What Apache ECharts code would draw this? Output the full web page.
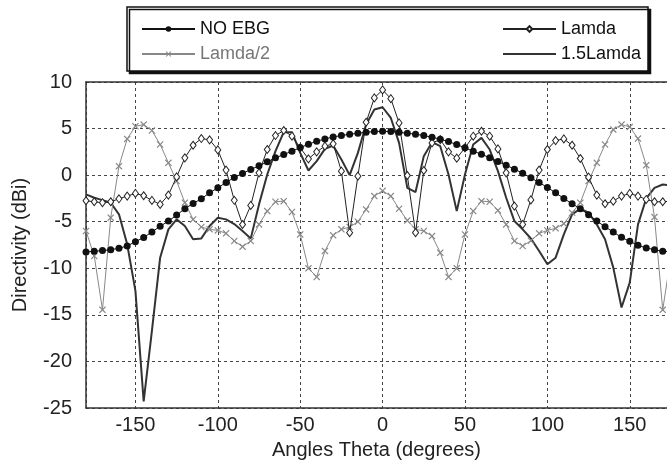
<!DOCTYPE html>
<html>
<head>
<meta charset="utf-8">
<script src="https://cdn.jsdelivr.net/npm/echarts@6/dist/echarts.min.js"></script>
<style>
html,body{margin:0;padding:0;background:#fff;}
#chart{width:667px;height:468px;}
</style>
</head>
<body>
<div id="chart"></div>
<script>
const angles = [-180,-175,-170,-165,-160,-155,-150,-145,-140,-135,-130,-125,-120,-115,-110,-105,-100,-95,-90,-85,-80,-75,-70,-65,-60,-55,-50,-45,-40,-35,-30,-25,-20,-15,-10,-5,0,5,10,15,20,25,30,35,40,45,50,55,60,65,70,75,80,85,90,95,100,105,110,115,120,125,130,135,140,145,150,155,160,165,170,175,180];

const noEBG = [-8.25,-8.18,-8.1,-8.0,-7.86,-7.6,-7.14,-6.7,-6.1,-5.5,-4.93,-4.29,-3.6,-3.04,-2.54,-1.9,-1.36,-0.79,-0.25,0.18,0.61,1.0,1.43,1.86,2.21,2.57,2.96,3.32,3.64,3.89,4.1,4.25,4.39,4.5,4.6,4.68,4.71,4.68,4.6,4.5,4.39,4.25,4.07,3.86,3.6,3.29,2.93,2.57,2.25,1.86,1.46,1.07,0.64,0.21,-0.29,-0.79,-1.32,-1.9,-2.5,-3.07,-3.6,-4.25,-4.93,-5.54,-6.11,-6.68,-7.11,-7.54,-7.82,-8.0,-8.18,-8.22,-8.25];

const lamda = [-2.75,-2.86,-2.96,-2.86,-2.54,-2.25,-1.96,-2.21,-2.71,-3.14,-2.14,-0.18,1.86,3.21,3.93,3.79,2.71,0.54,-2.7,-5.3,-3.25,0.25,2.75,4.25,4.79,4.18,2.93,1.75,2.5,3.11,3.36,0.43,-6.18,-0.11,5.68,8.29,9.15,8.21,5.61,-0.04,-6.18,0.5,3.46,3.82,2.5,1.82,2.93,4.18,4.71,4.18,2.82,0.25,-3.32,-5.29,-2.66,0.54,2.75,3.71,3.89,3.21,1.79,-0.21,-2.14,-3.07,-2.79,-2.25,-1.96,-2.25,-2.61,-2.86,-2.86,-2.8,-2.75];

const lamdaHalf = [-6.0,-8.68,-14.46,-4.57,0.96,3.89,5.25,5.43,4.79,3.29,1.32,-0.64,-2.96,-4.75,-5.57,-5.82,-5.93,-6.25,-7.07,-7.68,-7.07,-5.29,-3.86,-2.86,-2.79,-3.96,-6.36,-10.0,-10.93,-8.14,-6.46,-5.82,-5.57,-5.0,-3.68,-2.25,-1.68,-2.25,-3.61,-4.86,-5.82,-6.0,-6.54,-8.32,-10.93,-10.0,-6.36,-3.86,-2.79,-2.86,-3.79,-5.29,-7.07,-7.61,-7.04,-6.25,-5.93,-5.71,-5.21,-4.04,-2.96,-0.64,1.32,3.29,4.89,5.43,5.18,3.93,1.07,-4.5,-14.46,-8.68,-6.0];

const lamda15 = [-2.07,-2.43,-2.68,-2.96,-4.21,-7.43,-12.43,-24.29,-16.71,-8.86,-5.82,-4.75,-5.46,-6.89,-6.79,-5.46,-4.57,-4.75,-5.25,-6.0,-6.79,-3.14,0.07,2.57,4.61,4.61,2.39,0.5,1.5,2.82,3.18,1.68,0.0,2.39,5.43,7.04,7.29,6.14,3.46,-1.36,-1.82,2.04,3.54,3.11,0.07,-3.86,0.07,3.29,4.0,2.75,0.43,-2.43,-4.93,-5.82,-6.8,-8.14,-9.57,-8.86,-6.36,-4.21,-3.61,-4.04,-5.29,-6.89,-9.93,-14.21,-11.54,-5.29,-2.5,-1.36,-1.0,-1.1,-2.07];

const seriesNames = ['NO EBG','Lamda/2','Lamda','1.5Lamda'];
const xTitle = 'Angles Theta (degrees)';
const yTitle = 'Directivity (dBi)';
// visible angular window of the original figure (cropped on the right)
const xRange = [-180, 172.6];

function pairs(vals){ return angles.map((a,i)=>[a, vals[i]]); }

const FONT = '"Liberation Sans", Arial, sans-serif';
const xMark = 'path://M0,1.2 L1.2,0 L5,3.8 L8.8,0 L10,1.2 L6.2,5 L10,8.8 L8.8,10 L5,6.2 L1.2,10 L0,8.8 L3.8,5 Z';
const gridLine = {show:true, lineStyle:{color:'#444', width:1, type:[3,3]}};
const axisLine = {show:true, onZero:false, lineStyle:{color:'#333', width:1.5}};

const chart = echarts.init(document.getElementById('chart'), null, {renderer:'canvas'});
chart.setOption({
  animation:false,
  backgroundColor:'#fff',
  textStyle:{fontFamily:FONT},
  graphic:[{
    type:'rect', z:1,
    shape:{x:127, y:7, width:521, height:64},
    style:{fill:'#fff', stroke:'#111', lineWidth:1.5, shadowColor:'#111', shadowOffsetX:2.5, shadowOffsetY:2.5, shadowBlur:0}
  }],
  legend:[
    {orient:'vertical', left:136, top:15, itemWidth:53, itemHeight:7, itemGap:7,
     textStyle:{fontSize:18, color:'#111', fontFamily:FONT},
     data:[{name:'NO EBG'},{name:'Lamda/2', textStyle:{color:'#777'}}], z:5},
    {orient:'vertical', left:497, top:15, itemWidth:53, itemHeight:7, itemGap:7,
     textStyle:{fontSize:18, color:'#111', fontFamily:FONT},
     data:[{name:'Lamda'},{name:'1.5Lamda', itemStyle:{opacity:0, borderWidth:0}}], z:5}
  ],
  grid:{left:86, top:82, right:0, height:326, show:false},
  xAxis:[{
    type:'value', min:xRange[0], max:xRange[1], splitNumber:7,
    name:xTitle, nameLocation:'middle', nameGap:32,
    nameTextStyle:{fontSize:20, color:'#222', fontFamily:FONT},
    axisLine:axisLine,
    axisTick:{show:false},
    axisLabel:{fontSize:20, color:'#222', margin:7, showMinLabel:false, showMaxLabel:false, fontFamily:FONT},
    splitLine:gridLine
  },{
    type:'value', position:'top', min:xRange[0], max:xRange[1],
    axisLine:axisLine, axisTick:{show:false}, axisLabel:{show:false}, splitLine:{show:false}
  }],
  yAxis:{
    type:'value', min:-25, max:10, interval:5,
    name:yTitle, nameLocation:'middle', nameGap:56,
    nameTextStyle:{fontSize:20, color:'#222', fontFamily:FONT},
    axisLine:axisLine,
    axisTick:{show:false},
    axisLabel:{fontSize:20, color:'#222', margin:14, fontFamily:FONT},
    splitLine:gridLine
  },
  series:[
    {name:'1.5Lamda', type:'line', data:pairs(lamda15), showSymbol:false, symbol:'none', z:2,
     lineStyle:{color:'#333', width:2}, itemStyle:{color:'#333'}},
    {name:'Lamda/2', type:'line', data:pairs(lamdaHalf), symbol:xMark, symbolSize:7, z:3,
     lineStyle:{color:'#888', width:1}, itemStyle:{color:'#888'}},
    {name:'Lamda', type:'line', data:pairs(lamda), symbol:'diamond', symbolSize:[6,8], z:4,
     lineStyle:{color:'#222', width:1}, itemStyle:{color:'#fff', borderColor:'#222', borderWidth:1}},
    {name:'NO EBG', type:'line', data:pairs(noEBG), symbol:'circle', symbolSize:7, z:5,
     lineStyle:{color:'#111', width:1}, itemStyle:{color:'#111'}}
  ]
});
</script>
</body>
</html>
